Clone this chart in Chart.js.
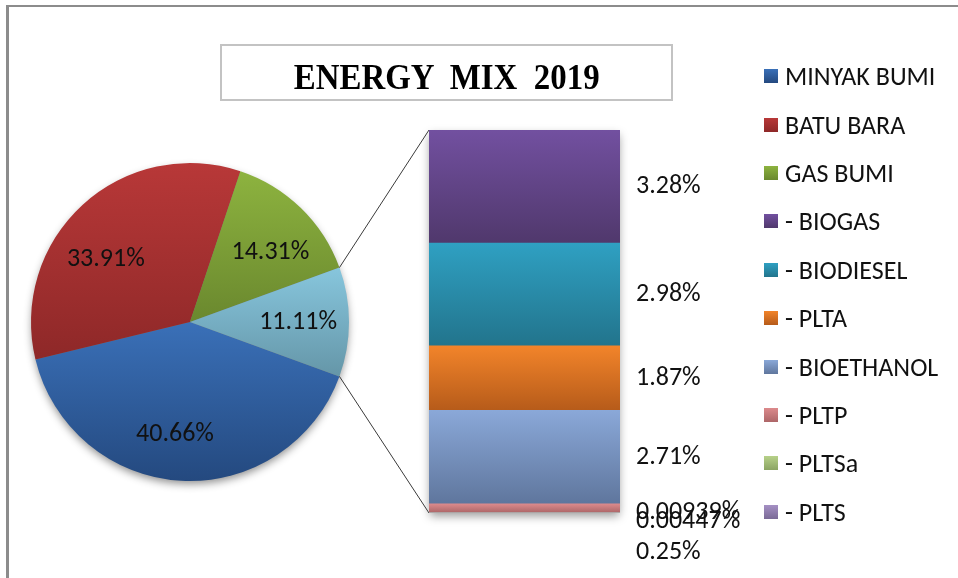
<!DOCTYPE html>
<html>
<head>
<meta charset="utf-8">
<title>Energy Mix 2019</title>
<script src="https://cdn.jsdelivr.net/npm/chart.js@4.4.1/dist/chart.umd.min.js"></script>
<style>
  html, body { margin: 0; padding: 0; background: #fff; }
  #wrap { position: relative; width: 958px; height: 578px; overflow: hidden; }
  #frame { position: absolute; left: 6px; top: 5px; width: 1000px; height: 1000px;
           border-left: 3px solid #8c8c8c; border-top: 2px solid #8c8c8c; }
  canvas { position: absolute; left: 0; top: 0; }
  #title { position: absolute; left: 220px; top: 44px; width: 449px; height: 53px;
           border: 2px solid #c3c3c3; font: bold 35px "Liberation Serif", serif;
           white-space: pre; text-align: center; line-height: 63px; color: #000; }
  #title span { display: inline-block; transform: scaleX(0.94); }
  #legend { position: absolute; left: 764px; top: 52px; font-family: Carlito, Lato, sans-serif;
            font-size: 26px; color: #111; }
  .item { height: 48.4px; display: flex; align-items: center; white-space: pre; }
  .swatch { width: 14px; height: 14px; margin-right: 7px; }
</style>
</head>
<body>
<div id="wrap">
  <div id="frame"></div>
  <canvas id="pieChart" width="958" height="578"></canvas>
  <canvas id="barChart" width="958" height="578"></canvas>
  <div id="title"><span>ENERGY  MIX  2019</span></div>
  <div id="legend"></div>
</div>
<script>
// Energy mix 2019 (percent of total)
const mainLabels = ['MINYAK BUMI', 'BATU BARA', 'GAS BUMI', 'EBT'];
const mainValues = [40.66, 33.91, 14.31, 11.11];

// Breakdown of the renewable share, listed top to bottom of the bar
const ebtLabels = ['- BIOGAS', '- BIODIESEL', '- PLTA', '- BIOETHANOL', '- PLTP', '- PLTSa', '- PLTS'];
const ebtValues = [3.28, 2.98, 1.87, 2.71, 0.25, 0.00939, 0.00447];

// light (top) / dark (bottom) gradient stops
const mainColors = [['#3a70b8', '#24497f'], ['#b83838', '#8e2828'], ['#8db33f', '#6a882e'], ['#87c6dd', '#6596a8']];
const ebtColors = [['#7250a0', '#50386c'], ['#2fa0c2', '#22748c'], ['#f2842a', '#b65b1a'], ['#8aa8d8', '#5f769d'],
                   ['#dc8a8c', '#ad6668'], ['#b7d189', '#8ba463'], ['#a590c4', '#7a6a96']];

// small nudges for the value labels so they don't collide
const pieLabelNudge = [[-9, 5], [-11, 17], [5, 8], [0, 0]];
const barLabelNudge = [0, 0, 0, 0, 44, 0, 9];

const FONT = 'Carlito, Lato, sans-serif';
const PIE_ROTATION = 110;
const ebtTotal = ebtValues.reduce((a, b) => a + b, 0);
const mainTotal = mainValues.reduce((a, b) => a + b, 0);

// gradient over the vertical extent of one pie slice
function sliceGradient(c) {
  const i = c.dataIndex;
  const area = c.chart.chartArea;
  if (!area) return mainColors[i][0];
  const cx = (area.left + area.right) / 2, cy = (area.top + area.bottom) / 2;
  const r = Math.min(area.right - area.left, area.bottom - area.top) / 2;
  const before = mainValues.slice(0, i).reduce((a, b) => a + b, 0);
  const a0 = (PIE_ROTATION - 90) * Math.PI / 180 + before / mainTotal * 2 * Math.PI;
  const a1 = a0 + mainValues[i] / mainTotal * 2 * Math.PI;
  let top = cy, bottom = cy;
  for (let k = 0; k <= 60; k++) {
    const y = cy + r * Math.sin(a0 + (a1 - a0) * k / 60);
    top = Math.min(top, y); bottom = Math.max(bottom, y);
  }
  const g = c.chart.ctx.createLinearGradient(0, top, 0, bottom);
  g.addColorStop(0, mainColors[i][0]);
  g.addColorStop(1, mainColors[i][1]);
  return g;
}

// gradient over one stacked segment
function segmentGradient(c, i) {
  const y = c.chart.scales.y;
  if (!y || !c.chart.chartArea) return ebtColors[i][0];
  const base = ebtValues.slice(i + 1).reduce((a, b) => a + b, 0);
  const top = y.getPixelForValue(base + ebtValues[i]);
  const bottom = y.getPixelForValue(base);
  const g = c.chart.ctx.createLinearGradient(0, top, 0, Math.max(bottom, top + 1));
  g.addColorStop(0, ebtColors[i][0]);
  g.addColorStop(1, ebtColors[i][1]);
  return g;
}

const pieExtras = {
  id: 'pieExtras',
  beforeDatasetsDraw(chart) {
    const arc = chart.getDatasetMeta(0).data[0];
    const ctx = chart.ctx;
    ctx.save();
    ctx.shadowColor = 'rgba(0,0,0,0.45)';
    ctx.shadowBlur = 9;
    ctx.shadowOffsetY = 4;
    ctx.beginPath();
    ctx.arc(arc.x, arc.y, arc.outerRadius - 1, 0, Math.PI * 2);
    ctx.fillStyle = '#777';
    ctx.fill();
    ctx.restore();
  },
  afterDatasetsDraw(chart) {
    const ctx = chart.ctx;
    ctx.save();
    ctx.font = '26px ' + FONT;
    ctx.fillStyle = '#111';
    ctx.textAlign = 'center';
    ctx.textBaseline = 'middle';
    chart.getDatasetMeta(0).data.forEach((arc, i) => {
      const mid = (arc.startAngle + arc.endAngle) / 2;
      const d = arc.outerRadius * 0.68;
      ctx.fillText(mainValues[i] + '%',
        arc.x + Math.cos(mid) * d + pieLabelNudge[i][0],
        arc.y + Math.sin(mid) * d + pieLabelNudge[i][1]);
    });
    ctx.restore();
  }
};

const pieChart = new Chart(document.getElementById('pieChart'), {
  type: 'pie',
  data: {
    labels: mainLabels,
    datasets: [{ data: mainValues, backgroundColor: sliceGradient, borderWidth: 0 }]
  },
  options: {
    responsive: false,
    animation: false,
    rotation: PIE_ROTATION,
    events: [],
    layout: { padding: { left: 31, right: 609, top: 163, bottom: 97 } },
    plugins: { legend: { display: false }, tooltip: { enabled: false } }
  },
  plugins: [pieExtras]
});

const barExtras = {
  id: 'barExtras',
  beforeDatasetsDraw(chart) {
    const area = chart.chartArea;
    const ctx = chart.ctx;
    ctx.save();
    ctx.shadowColor = 'rgba(0,0,0,0.4)';
    ctx.shadowBlur = 9;
    ctx.shadowOffsetY = 4;
    ctx.fillStyle = '#777';
    ctx.fillRect(area.left + 1, area.top + 1, area.right - area.left - 2, area.bottom - area.top - 2);
    ctx.restore();

    // connector lines from the pie's EBT slice to the bar
    const arc = pieChart.getDatasetMeta(0).data[3];
    const R = arc.outerRadius;
    ctx.save();
    ctx.strokeStyle = '#3a3a3a';
    ctx.lineWidth = 1;
    ctx.beginPath();
    ctx.moveTo(arc.x + R * Math.cos(arc.startAngle), arc.y + R * Math.sin(arc.startAngle));
    ctx.lineTo(area.left, area.top);
    ctx.moveTo(arc.x + R * Math.cos(arc.endAngle), arc.y + R * Math.sin(arc.endAngle));
    ctx.lineTo(area.left, area.bottom);
    ctx.stroke();
    ctx.restore();
  },
  afterDatasetsDraw(chart) {
    const ctx = chart.ctx;
    ctx.save();
    ctx.font = '26px ' + FONT;
    ctx.fillStyle = '#111';
    ctx.textAlign = 'left';
    ctx.textBaseline = 'middle';
    chart.data.datasets.forEach((ds, d) => {
      const el = chart.getDatasetMeta(d).data[0];
      const i = ds.ebtIndex;
      ctx.fillText(ebtValues[i] + '%', el.x + el.width / 2 + 16, (el.y + el.base) / 2 + barLabelNudge[i]);
    });
    ctx.restore();
  }
};

// stacking starts from the bottom, so feed the list in reverse
const stackOrder = ebtLabels.map((_, i) => i).reverse();

new Chart(document.getElementById('barChart'), {
  type: 'bar',
  data: {
    labels: ['EBT'],
    datasets: stackOrder.map(i => ({
      label: ebtLabels[i],
      ebtIndex: i,
      data: [ebtValues[i]],
      backgroundColor: c => segmentGradient(c, i),
      borderWidth: 0,
      barPercentage: 1,
      categoryPercentage: 1
    }))
  },
  options: {
    responsive: false,
    animation: false,
    events: [],
    layout: { padding: { left: 429, right: 338, top: 130, bottom: 65 } },
    scales: {
      x: { stacked: true, display: false },
      y: { stacked: true, display: false, min: 0, max: ebtTotal }
    },
    plugins: { legend: { display: false }, tooltip: { enabled: false } }
  },
  plugins: [barExtras]
});

// legend: main sources first, then the renewable breakdown
const legend = document.getElementById('legend');
mainLabels.slice(0, 3).map((l, i) => [l, mainColors[i]])
  .concat(ebtLabels.map((l, i) => [l, ebtColors[i]]))
  .forEach(([label, col]) => {
    const row = document.createElement('div');
    row.className = 'item';
    const sw = document.createElement('span');
    sw.className = 'swatch';
    sw.style.background = `linear-gradient(${col[0]}, ${col[1]})`;
    row.appendChild(sw);
    row.appendChild(document.createTextNode(label));
    legend.appendChild(row);
  });
</script>
</body>
</html>
